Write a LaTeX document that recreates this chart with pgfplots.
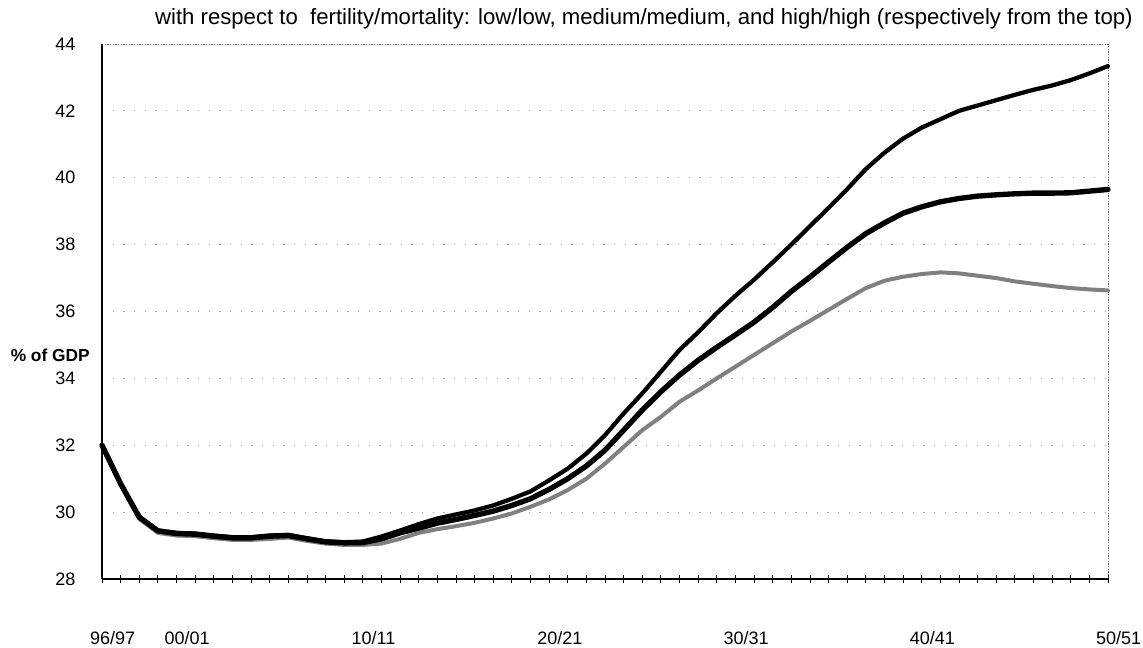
\documentclass[border=0pt]{standalone}
\usepackage{fontspec}
\setmainfont{Liberation Sans}
\usepackage{pgfplots}
\usepackage{pgfplotstable}
\pgfplotsset{compat=1.18}
\pgfplotstableread{
i top med low
0 32.00 32.00 32.00
1 30.85 30.85 30.82
2 29.85 29.85 29.80
3 29.45 29.44 29.38
4 29.38 29.36 29.30
5 29.36 29.34 29.28
6 29.30 29.28 29.22
7 29.25 29.23 29.17
8 29.25 29.23 29.17
9 29.30 29.28 29.20
10 29.32 29.30 29.24
11 29.22 29.20 29.14
12 29.13 29.11 29.06
13 29.10 29.08 29.02
14 29.12 29.09 29.02
15 29.27 29.20 29.06
16 29.45 29.38 29.20
17 29.64 29.52 29.38
18 29.81 29.67 29.49
19 29.93 29.78 29.58
20 30.05 29.90 29.68
21 30.20 30.03 29.81
22 30.40 30.20 29.96
23 30.62 30.40 30.16
24 30.95 30.68 30.38
25 31.30 31.00 30.66
26 31.75 31.38 31.00
27 32.30 31.85 31.45
28 32.95 32.45 31.95
29 33.55 33.05 32.45
30 34.20 33.60 32.85
31 34.85 34.10 33.30
32 35.38 34.54 33.64
33 35.95 34.93 34.00
34 36.47 35.30 34.35
35 36.95 35.68 34.70
36 37.47 36.12 35.05
37 38.00 36.60 35.40
38 38.55 37.03 35.72
39 39.10 37.48 36.05
40 39.66 37.92 36.38
41 40.26 38.33 36.70
42 40.75 38.65 36.92
43 41.17 38.94 37.04
44 41.50 39.13 37.12
45 41.75 39.28 37.17
46 42.00 39.38 37.14
47 42.16 39.45 37.07
48 42.32 39.49 37.00
49 42.48 39.52 36.90
50 42.63 39.54 36.83
51 42.76 39.54 36.76
52 42.92 39.55 36.70
53 43.12 39.60 36.66
54 43.34 39.65 36.63
}\data
\begin{document}
\begin{tikzpicture}[x=1pt,y=1pt]
\useasboundingbox (0,0) rectangle (857.25,485.25);
\begin{axis}[
  at={(76.5pt,51pt)}, anchor=south west,
  width=754.5pt, height=401.25pt, scale only axis,
  xmin=0, xmax=54, ymin=28, ymax=44,
  axis x line*=bottom, axis y line*=left,
  axis line style={black, line width=0.8pt},
  clip=false,
  xtick={0,4,14,24,34,44,54},
  xticklabels={96/97,00/01,10/11,20/21,30/31,40/41,50/51},
  minor xtick={0,...,54},
  major tick length=6pt, minor tick length=6pt,
  xtick align=center,
  xtick style={black, line width=0.6pt},
  minor tick style={black, line width=0.6pt},
  ytick={28,30,...,44},
  ytick style={draw=none},
  ymajorgrids,
  grid style={black!35, line width=0.6pt, dash pattern=on 1pt off 7pt},
  /pgf/number format/assume math mode=true,
  xticklabel style={font=\fontsize{13.5}{13.5}\selectfont, xshift=8pt, yshift=-33pt},
  yticklabel style={font=\fontsize{13.5}{13.5}\selectfont, xshift=-16.5pt},
]
\draw[black!70, line width=0.6pt, dash pattern=on 1pt off 1pt] (rel axis cs:0,1) -- (rel axis cs:1,1) -- (rel axis cs:1,0);
\addplot[black!50, line width=3pt, line join=round, line cap=round] table[x=i, y=low] {\data};
\addplot[black, line width=3.2pt, line join=round, line cap=round] table[x=i, y=top] {\data};
\addplot[black, line width=4pt, line join=round, line cap=round] table[x=i, y=med] {\data};
\node[anchor=base east, inner sep=0pt, font=\fontsize{16.6}{16.6}\selectfont, xshift=18.75pt, yshift=14.25pt] at (rel axis cs:1,1) {with respect to\ \ fertility/mortality: low/low, medium/medium, and high/high (respectively from the top)};
\node[anchor=east, inner sep=0pt, font=\bfseries\fontsize{13}{13}\selectfont, xshift=-9pt] at (axis cs:0,34.69) {\% of GDP};
\end{axis}
\end{tikzpicture}
\end{document}
